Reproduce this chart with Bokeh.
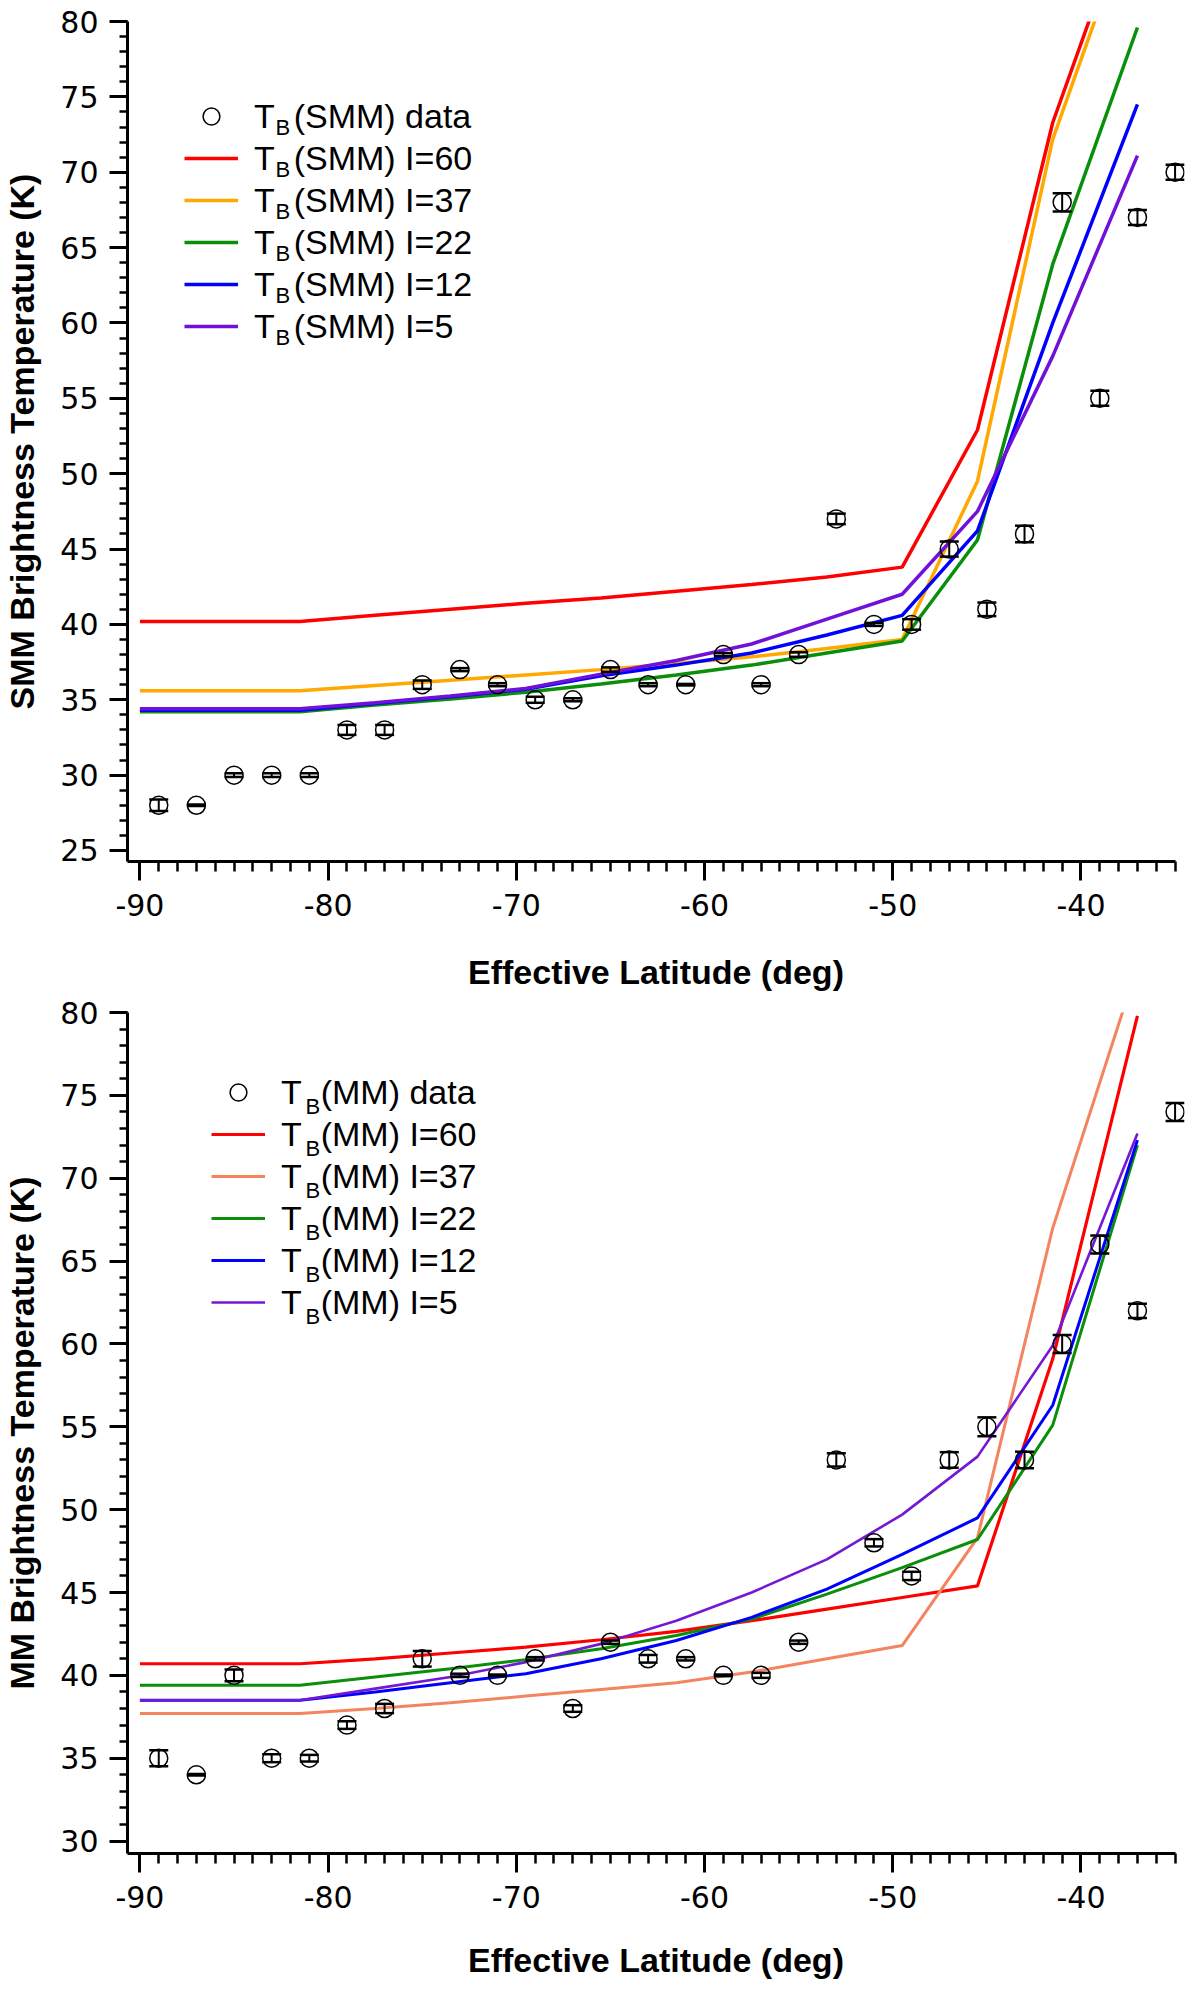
from bokeh.plotting import figure
from bokeh.layouts import column
from bokeh.models import (ColumnDataSource, Range1d, SingleIntervalTicker, Whisker,
                          TeeHead, Legend, LegendItem, Label, PrintfTickFormatter)
from bokeh.embed import file_html
from bokeh.resources import INLINE

# ---------------- data ----------------
latitude = [-89, -87, -85, -83, -81, -79, -77, -75, -73, -71,
            -69, -67, -65, -63, -61, -59, -57, -55, -53, -51,
            -49, -47, -45, -43, -41, -39, -37, -35]

smm_tb = [28, 28, 30, 30, 30, 33, 33, 36, 37, 36,
          35, 35, 37, 36, 36, 38, 36, 38, 47, 40,
          40, 45, 41, 46, 68, 55, 67, 70]
smm_err = [0.38, 0.05, 0.12, 0.12, 0.12, 0.33, 0.33, 0.28, 0.1, 0.1,
           0.2, 0.1, 0.15, 0.1, 0.05, 0.1, 0.1, 0.15, 0.35, 0.1,
           0.35, 0.5, 0.45, 0.55, 0.6, 0.5, 0.5, 0.5]

mm_tb = [35, 34, 40, 35, 35, 37, 38, 41, 40, 40,
         41, 38, 42, 41, 41, 40, 40, 42, 53, 48,
         46, 53, 55, 53, 60, 66, 62, 74]
mm_err = [0.48, 0.05, 0.36, 0.24, 0.2, 0.23, 0.28, 0.47, 0.1, 0.05,
          0.1, 0.2, 0.1, 0.23, 0.1, 0.05, 0.15, 0.1, 0.4, 0.22,
          0.25, 0.47, 0.57, 0.5, 0.54, 0.54, 0.43, 0.54]

model_lat = [-90, -81.5, -77.5, -73.5, -69.5, -65.5, -61.5, -57.5, -53.5, -49.5, -45.5, -41.5, -37]

smm_I60 = [40.2, 40.2, 40.6, 41.0, 41.4, 41.75, 42.2, 42.65, 43.15, 43.8, 52.9, 73.3, 89.0]
smm_I37 = [35.6, 35.6, 35.95, 36.3, 36.65, 37.0, 37.4, 37.85, 38.4, 39.0, 49.5, 72.2, 88.0]
smm_I22 = [34.2, 34.2, 34.65, 35.05, 35.5, 36.05, 36.65, 37.3, 38.1, 38.9, 45.6, 63.9, 79.6]
smm_I12 = [34.3, 34.3, 34.75, 35.2, 35.7, 36.6, 37.3, 38.1, 39.3, 40.6, 46.2, 60.0, 74.5]
smm_I5 = [34.4, 34.4, 34.8, 35.25, 35.75, 36.7, 37.6, 38.7, 40.35, 42.0, 47.5, 57.8, 71.1]

mm_I60 = [40.7, 40.7, 41.0, 41.35, 41.7, 42.15, 42.65, 43.3, 44.0, 44.7, 45.4, 59.1, 79.8]
mm_I37 = [37.7, 37.7, 38.0, 38.35, 38.75, 39.15, 39.55, 40.2, 41.0, 41.8, 48.3, 67.0, 82.8]
mm_I22 = [39.4, 39.4, 39.9, 40.4, 40.95, 41.6, 42.4, 43.4, 44.9, 46.5, 48.2, 55.1, 72.0]
mm_I12 = [38.5, 38.5, 39.0, 39.55, 40.1, 41.0, 42.1, 43.5, 45.2, 47.3, 49.5, 56.3, 72.3]
mm_I5 = [38.5, 38.5, 39.2, 39.9, 40.8, 41.9, 43.3, 45.0, 47.0, 49.7, 53.2, 59.9, 72.7]

incidence = ["60", "37", "22", "12", "5"]
smm_models = [smm_I60, smm_I37, smm_I22, smm_I12, smm_I5]
mm_models = [mm_I60, mm_I37, mm_I22, mm_I12, mm_I5]
smm_colors = ["#ff0000", "#ffa800", "#0a8f0a", "#0000ff", "#7010d8"]
mm_colors = ["#ff0000", "#f4845f", "#0a8f0a", "#0000ff", "#7418d4"]

NB = "\u00a0"


def build(tag, tb, err, models, colors, line_w, ymin, frame_h, b_top, b_bottom,
          xlab_standoff, leg_xy, sub_x, sub_y0):
    p = figure(frame_width=1057, frame_height=frame_h,
               x_range=Range1d(-90.66, -34.5), y_range=Range1d(ymin, 80),
               output_backend="svg", toolbar_location=None,
               min_border_left=121, min_border_right=6,
               min_border_top=b_top, min_border_bottom=b_bottom)
    p.outline_line_color = None
    p.xgrid.visible = False
    p.ygrid.visible = False
    p.background_fill_color = "white"
    p.border_fill_color = "white"

    # model lines
    line_renderers = []
    for vals, c, w in zip(models, colors, line_w):
        r = p.line(model_lat, vals, line_color=c, line_width=w)
        line_renderers.append(r)

    # data with error bars
    src = ColumnDataSource(dict(
        x=latitude, y=tb,
        upper=[t + e for t, e in zip(tb, err)],
        lower=[t - e for t, e in zip(tb, err)]))
    wh = Whisker(source=src, base="x", upper="upper", lower="lower",
                 line_color="black", line_width=2,
                 upper_head=TeeHead(size=19, line_width=2.5, line_color="black"),
                 lower_head=TeeHead(size=19, line_width=2.5, line_color="black"))
    wh.level = "glyph"
    p.add_layout(wh)
    sc = p.scatter("x", "y", source=src, marker="circle", size=18,
                   fill_color=None, line_color="black", line_width=1.5)

    # axes
    xa = p.xaxis[0]
    xa.ticker = SingleIntervalTicker(interval=10, num_minor_ticks=10)
    xa.formatter = PrintfTickFormatter(format="%d")
    xa.bounds = (-90.66, -35)
    ya = p.yaxis[0]
    ya.ticker = SingleIntervalTicker(interval=5, num_minor_ticks=5)
    ya.formatter = PrintfTickFormatter(format="%d")
    ya.bounds = (ymin, 80)
    for ax in (xa, ya):
        ax.axis_line_width = 3
        ax.axis_line_color = "black"
        ax.major_tick_line_width = 3
        ax.minor_tick_line_width = 2.5
        ax.major_tick_line_color = "black"
        ax.minor_tick_line_color = "black"
        ax.major_tick_in = 0
        ax.minor_tick_in = 0
        ax.major_label_text_font = "DejaVu Sans"
        ax.major_label_text_font_size = "30px"
        ax.major_label_text_color = "black"
        ax.axis_label_text_font = "Liberation Sans"
        ax.axis_label_text_font_style = "bold"
        ax.axis_label_text_color = "black"
        ax.axis_label_text_font_size = "34px"
    xa.major_tick_out = 19
    xa.minor_tick_out = 10
    xa.major_label_standoff = 13
    xa.axis_label = "Effective Latitude (deg)"
    xa.axis_label_standoff = xlab_standoff
    ya.major_tick_out = 18
    ya.minor_tick_out = 8
    ya.major_label_standoff = 11
    ya.axis_label = f"{tag} Brightness Temperature (K)"
    ya.axis_label_standoff = 16

    # legend (glyph samples + label text); subscript B added as labels
    items = [LegendItem(label=f"T{NB}{NB}({tag}) data", renderers=[sc])]
    for inc, r in zip(incidence, line_renderers):
        items.append(LegendItem(label=f"T{NB}{NB}({tag}) I={inc}", renderers=[r]))
    leg = Legend(items=items, location=leg_xy, glyph_width=54, glyph_height=42,
                 label_height=42, spacing=0, padding=0, margin=0,
                 label_standoff=16, label_text_font="Liberation Sans",
                 label_text_font_size="34px", label_text_color="black",
                 border_line_color=None, background_fill_alpha=0)
    p.add_layout(leg)
    for i in range(len(items)):
        p.add_layout(Label(x=sub_x, y=sub_y0 - 42 * i, x_units="screen", y_units="screen",
                           text="B", text_font="Liberation Sans", text_font_size="22px",
                           text_color="black", text_baseline="alphabetic",
                           text_align="left"))
    return p


top = build("SMM", smm_tb, smm_err, smm_models, smm_colors,
            [3.5, 3.5, 3.5, 3.5, 3.5], 24.27, 840, 21, 128, 34,
            (57, 514), 148, 734)
bottom = build("MM", mm_tb, mm_err, mm_models, mm_colors,
               [3.2, 3, 3, 3, 2.6], 29.25, 841, 19, 120, 30,
               (84, 530), 178, 747)

layout = column(top, bottom, spacing=0)
open("out.html", "w").write(file_html(layout, INLINE))
